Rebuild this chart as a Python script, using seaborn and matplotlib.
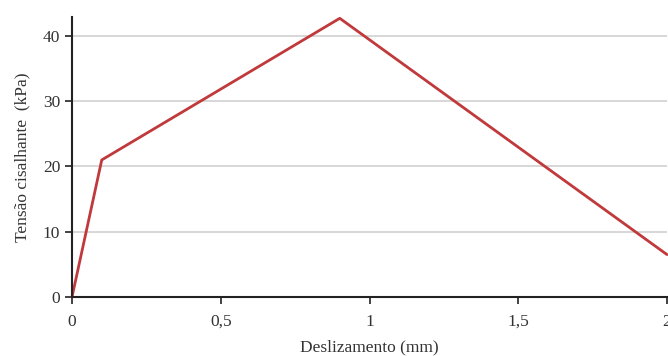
import matplotlib
matplotlib.use("Agg")
import matplotlib.pyplot as plt
import seaborn as sns
import pandas as pd

# dados
deslizamento = [0.0, 0.1, 0.9, 2.0]
tensao = [0.0, 21.0, 42.7, 6.5]
xticks = [0, 0.5, 1, 1.5, 2]
xticklabels = ["0", "0,5", "1", "1,5", "2"]
yticks = [0, 10, 20, 30, 40]

df = pd.DataFrame({"x": deslizamento, "y": tensao})

sns.set_style("white")
plt.rcParams["font.family"] = ["Liberation Serif", "DejaVu Serif"]

fig = plt.figure(figsize=(6.68, 3.56), dpi=100)
ax = fig.add_axes([72 / 668, 59 / 356, 595 / 668, 280 / 356])

for v in yticks[1:]:
    ax.axhline(v, color="#d4d4d4", lw=1.3, zorder=0)

sns.lineplot(data=df, x="x", y="y", ax=ax, color="#c0393b", lw=2.0, clip_on=False)

ax.set_xlim(0, 2)
ax.set_ylim(0, 42.9)
ax.set_xticks(xticks)
ax.set_xticklabels(xticklabels)
ax.set_yticks(yticks)
ax.tick_params(axis="both", direction="out", length=5, width=1.2, color="#222222",
               labelsize=12.5, labelcolor="#333333", bottom=True, left=True)
ax.tick_params(axis="x", pad=7)
for s in ["top", "right"]:
    ax.spines[s].set_visible(False)
for s in ["left", "bottom"]:
    ax.spines[s].set_color("#222222")
    ax.spines[s].set_linewidth(1.5)

ax.set_xlabel("Deslizamento (mm)", fontsize=12.5, color="#333333", labelpad=7)
ax.set_ylabel("Tensão cisalhante  (kPa)", fontsize=12.5, color="#333333", labelpad=9)

fig.savefig("out.png", dpi=100)
